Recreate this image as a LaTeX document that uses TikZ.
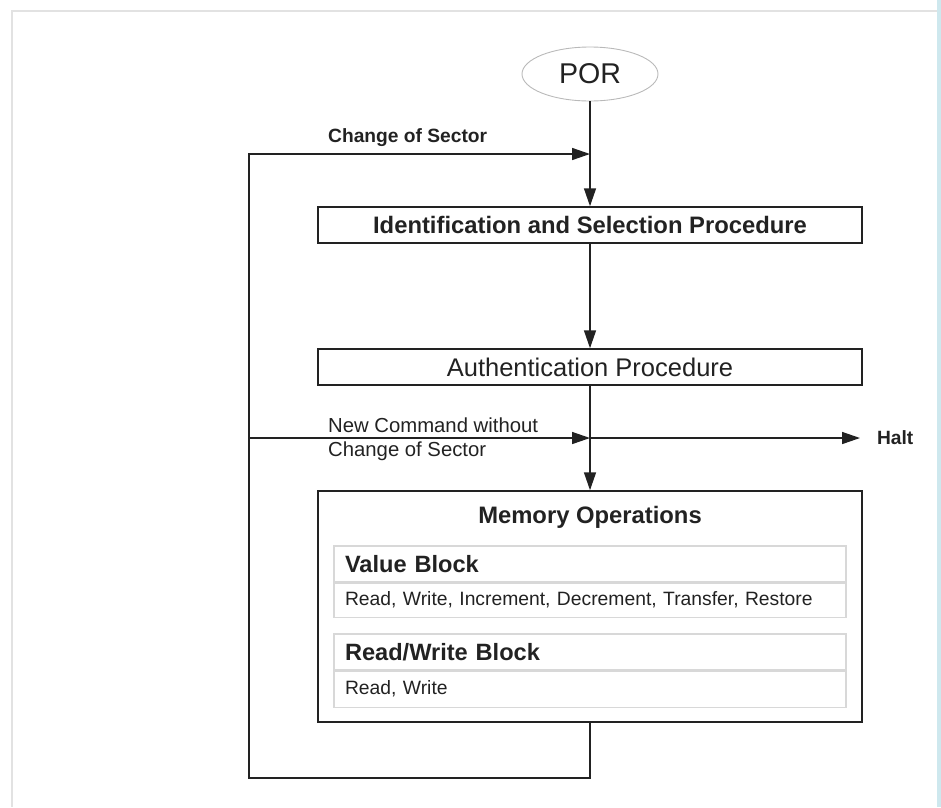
\documentclass[tikz,border=0pt]{standalone}
\usepackage{fontspec}
\setmainfont{Liberation Sans}
\usepackage{tikz}
\usetikzlibrary{positioning,arrows.meta,shapes.geometric}
\definecolor{ink}{RGB}{34,34,34}
\definecolor{framegrey}{RGB}{226,226,226}
\definecolor{blockgrey}{RGB}{216,216,216}
\definecolor{porgrey}{RGB}{185,185,185}
\definecolor{edgeblue}{RGB}{206,232,238}
\newcommand{\fsz}[1]{\fontsize{#1}{#1}\selectfont}
\tikzset{
  startnode/.style={ellipse, draw=porgrey, line width=0.9pt, text=ink,
                    minimum width=136pt, minimum height=54pt, inner sep=0pt,
                    font=\fsz{28.6}},
  procbox/.style  ={draw=ink, line width=1.5pt, text=ink, fill=white,
                    minimum width=544pt, minimum height=36pt, inner sep=0pt},
  subbox/.style   ={draw=blockgrey, line width=1.2pt, text=ink, minimum width=512pt,
                    text width=490pt, align=left, inner xsep=11pt, inner ysep=0pt},
  lbl/.style      ={text=ink, inner sep=0pt, font=\fsz{20.3}},
  flow/.style     ={-{Triangle[length=18pt,width=12pt]}, draw=ink, line width=1.5pt},
}

\begin{document}
\begin{tikzpicture}[x=1pt,y=-1pt]
\useasboundingbox (0,0) rectangle (941,807);

% page frame and edge strip
\fill[edgeblue] (937,0) rectangle (941,807);
\draw[framegrey,line width=1.5pt] (12,807) -- (12,11) -- (937,11);

% start and procedures
\node[startnode] (por) at (590,74) {POR};
\node[procbox,font=\bfseries\fsz{23.8}] (idsel) at (590,225) {Identification and Selection Procedure};
\node[procbox,font=\fsz{25.5}] (auth) at (590,367) {Authentication Procedure};

% memory operations with its two blocks
\node[procbox,minimum height=231pt] (memop) at (590,606.5) {};
\node[text=ink,inner sep=0pt,anchor=base,font=\bfseries\fsz{23.8}] (memtitle) at (590,523) {Memory Operations};
\node[subbox,minimum height=36pt,font=\bfseries\fsz{23.6}] (vhead) at (590,564) {Value Block};
\node[subbox,minimum height=34pt,font=\fsz{19.3},below=0pt of vhead] (vbody) {Read, Write, Increment, Decrement, Transfer, Restore};
\node[subbox,minimum height=36pt,font=\bfseries\fsz{23.6}] (rwhead) at (590,652) {Read/Write Block};
\node[subbox,minimum height=36pt,font=\fsz{19.3},below=0pt of rwhead] (rwbody) {Read, Write};

% loop corners and junctions
\coordinate (jtop)   at (590,154);
\coordinate (jmid)   at (590,438);
\coordinate (loopbr) at (590,778);
\coordinate (looptl) at (249,154);
\coordinate (loopml) at (249,438);

% labels
\node[lbl,font=\bfseries\fsz{19.2},anchor=base west] (lsector) at (328,142) {Change of Sector};
\node[lbl,anchor=base west] (lnewcmd) at (328,432) {New Command without};
\node[lbl,anchor=base west] (lnochg) at (328,456) {Change of Sector};
\node[lbl,font=\bfseries\fsz{19.2},anchor=west,outer xsep=17pt] (halt) at (860,438) {Halt};

% main flow
\draw[flow] (por) -- (idsel);
\draw[flow] (idsel) -- (auth);
\draw[flow] (auth) -- (memop);

% back loops
\draw[flow] (memop) -- (loopbr) -| (looptl) -- (jtop);
\draw[flow] (loopml) -- (jmid);
\draw[flow] (jmid) -- (halt.west);
\end{tikzpicture}
\end{document}
